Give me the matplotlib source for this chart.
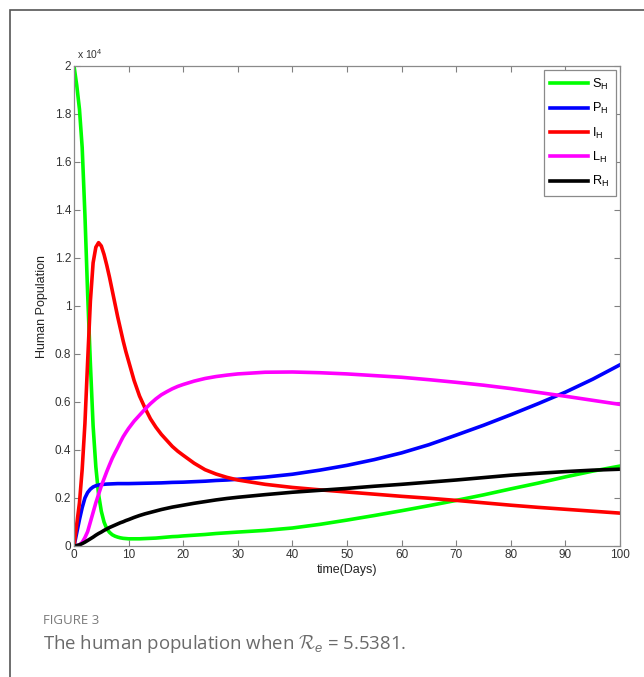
import matplotlib
matplotlib.use("Agg")
import matplotlib.pyplot as plt
from matplotlib.patches import Rectangle

# Time grid (days) and compartment sizes (in units of 10^4 people)
t_days = [0, 0.5, 1, 1.5, 2, 2.5, 3, 3.5, 4, 4.5, 5, 5.5, 6, 6.5, 7, 7.5,
          8, 8.5, 9, 9.5, 10, 11, 12, 13, 14, 15, 16, 17, 18, 19, 20,
          22, 24, 26, 28, 30, 35, 40, 45, 50, 55, 60, 65, 70, 75, 80, 85,
          90, 95, 100]

S_H = [2.0, 1.92, 1.82, 1.66, 1.38, 1.05, 0.76, 0.50, 0.33, 0.215, 0.145,
       0.10, 0.072, 0.057, 0.047, 0.041, 0.037, 0.034, 0.032, 0.031, 0.030,
       0.030, 0.030, 0.031, 0.032, 0.033, 0.035, 0.037, 0.039, 0.040, 0.042,
       0.045, 0.048, 0.052, 0.055, 0.058, 0.065, 0.075, 0.09, 0.108, 0.127,
       0.147, 0.168, 0.19, 0.213, 0.238, 0.262, 0.288, 0.312, 0.333]

P_H = [0.0, 0.055, 0.11, 0.16, 0.2, 0.223, 0.237, 0.246, 0.251, 0.254,
       0.256, 0.257, 0.258, 0.2585, 0.259, 0.2595, 0.26, 0.26, 0.26, 0.26,
       0.26, 0.2605, 0.261, 0.2615, 0.262, 0.2625, 0.263, 0.264, 0.265,
       0.2655, 0.266, 0.268, 0.27, 0.273, 0.275, 0.278, 0.287, 0.299, 0.316,
       0.336, 0.36, 0.388, 0.422, 0.462, 0.503, 0.547, 0.593, 0.641, 0.695,
       0.755]

I_H = [0.0, 0.09, 0.18, 0.32, 0.51, 0.77, 1.02, 1.18, 1.245, 1.264, 1.25,
       1.215, 1.17, 1.12, 1.065, 1.01, 0.955, 0.905, 0.855, 0.81, 0.77,
       0.69, 0.625, 0.575, 0.53, 0.495, 0.465, 0.44, 0.415, 0.395, 0.378,
       0.345, 0.318, 0.3, 0.286, 0.275, 0.257, 0.244, 0.234, 0.225, 0.216,
       0.207, 0.199, 0.19, 0.18, 0.17, 0.161, 0.153, 0.145, 0.137]

L_H = [0.0, 0.001, 0.005, 0.015, 0.035, 0.06, 0.1, 0.14, 0.18, 0.215, 0.25,
       0.28, 0.31, 0.338, 0.365, 0.388, 0.41, 0.433, 0.455, 0.473, 0.49,
       0.52, 0.545, 0.57, 0.593, 0.613, 0.63, 0.643, 0.655, 0.665, 0.673,
       0.687, 0.698, 0.706, 0.712, 0.717, 0.724, 0.725, 0.722, 0.717, 0.71,
       0.703, 0.693, 0.682, 0.67, 0.656, 0.64, 0.624, 0.607, 0.59]

R_H = [0.0, 0.002, 0.005, 0.01, 0.016, 0.023, 0.03, 0.037, 0.045, 0.052,
       0.058, 0.065, 0.071, 0.077, 0.082, 0.087, 0.092, 0.097, 0.101, 0.106,
       0.11, 0.119, 0.127, 0.134, 0.14, 0.146, 0.152, 0.157, 0.162, 0.166,
       0.17, 0.178, 0.185, 0.192, 0.198, 0.203, 0.214, 0.224, 0.232, 0.24,
       0.249, 0.257, 0.266, 0.275, 0.285, 0.295, 0.303, 0.31, 0.316, 0.32]

series = [
    (S_H, "#00ff00", r"S$_\mathrm{H}$"),
    (P_H, "#0000ff", r"P$_\mathrm{H}$"),
    (I_H, "#ff0000", r"I$_\mathrm{H}$"),
    (L_H, "#ff00ff", r"L$_\mathrm{H}$"),
    (R_H, "#000000", r"R$_\mathrm{H}$"),
]

x_ticks = list(range(0, 101, 10))
y_ticks = [0, 0.2, 0.4, 0.6, 0.8, 1.0, 1.2, 1.4, 1.6, 1.8, 2.0]
y_tick_labels = ["0", "0.2", "0.4", "0.6", "0.8", "1", "1.2", "1.4", "1.6",
                 "1.8", "2"]

plt.rcParams["font.family"] = ["Liberation Sans", "DejaVu Sans"]
plt.rcParams["mathtext.fontset"] = "custom"
plt.rcParams["mathtext.rm"] = "Liberation Sans"
plt.rcParams["mathtext.it"] = "Liberation Sans:italic"
plt.rcParams["mathtext.cal"] = "cmsy10"

W, H = 644, 677
fig = plt.figure(figsize=(W / 100, H / 100), dpi=100)

# outer panel frame
fig.patches.append(Rectangle((10 / W, -0.05), 1.1, 1 - 10 / H + 0.05,
                             transform=fig.transFigure, fill=False,
                             edgecolor="#555555", linewidth=1.2))

ax = fig.add_axes([74 / W, 1 - 546 / H, (620 - 74) / W, (546 - 66) / H])

for vals, col, lab in series:
    ax.plot(t_days, vals, color=col, linewidth=2.6, label=lab,
            solid_joinstyle="round")

ax.set_xlim(0, 100)
ax.set_ylim(0, 2)
ax.set_xticks(x_ticks)
ax.set_yticks(y_ticks)
ax.set_yticklabels(y_tick_labels)
ax.tick_params(direction="in", length=4, width=0.8, color="#808080",
               labelsize=8.5, labelcolor="#333333", top=True, right=True,
               pad=2)
for sp in ax.spines.values():
    sp.set_color("#8a8a8a")
    sp.set_linewidth(0.9)

ax.set_xlabel("time(Days)", fontsize=9, color="#222222", labelpad=2)
ax.set_ylabel("Human Population", fontsize=9, color="#222222", labelpad=5)
ax.text(0.005, 1.01, r"x 10$^4$", transform=ax.transAxes, fontsize=7.5,
        color="#333333", ha="left", va="bottom")

leg = ax.legend(loc="upper right", fontsize=9.2, handlelength=3.0,
                labelspacing=0.72, borderaxespad=0.35, borderpad=0.5,
                handletextpad=0.3, fancybox=False, framealpha=1)
leg.get_frame().set_edgecolor("#8a8a8a")
leg.get_frame().set_linewidth(0.9)
for line in leg.get_lines():
    line.set_linewidth(2.6)

cap_font = ["Open Sans", "DejaVu Sans"]
fig.text(43 / W, 1 - 620 / H, "FIGURE 3", fontsize=9.5, color="#7a7a7a",
         family=cap_font, ha="left", va="center")
fig.text(43 / W, 1 - 644 / H,
         r"The human population when $\mathcal{R}_e$ = 5.5381.",
         fontsize=13.4, color="#6a6a6a", family=cap_font, ha="left",
         va="center")

fig.savefig("out.png", dpi=100)
